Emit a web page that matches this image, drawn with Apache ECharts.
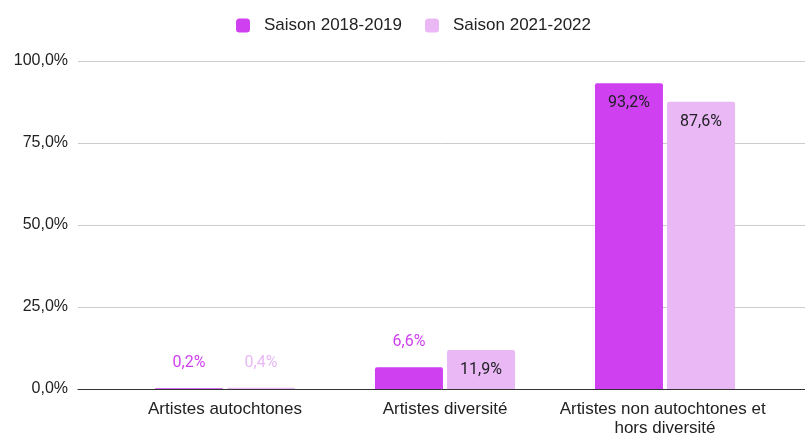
<!DOCTYPE html>
<html><head><meta charset="utf-8">
<script src="https://cdn.jsdelivr.net/npm/echarts@6/dist/echarts.min.js"></script>
<style>html,body{margin:0;padding:0;background:#fff}#c{width:805px;height:435px}</style>
</head><body><div id="c"></div>
<script>
const categories = ['Artistes autochtones', 'Artistes diversité', 'Artistes non autochtones et hors diversité'];
const seriesNames = ['Saison 2018-2019', 'Saison 2021-2022'];
const season2018 = [0.2, 6.6, 93.2];
const season2021 = [0.4, 11.9, 87.6];
const yTicks = [0, 25, 50, 75, 100];
const colors = ['#cf40f0', '#e9b8f5'];

const fmt = v => v.toFixed(1).replace('.', ',') + '%';
function items(values, color) {
  return values.map(v => v >= 10
    ? { value: v, label: { position: 'insideTop', distance: 12, color: '#202124' } }
    : { value: v, label: { position: 'top', distance: 17, color: color } });
}
const chart = echarts.init(document.getElementById('c'), null, { renderer: 'canvas' });
const axFont = 'Liberation Sans';
const valFont = 'Roboto';
chart.setOption({
  animation: false,
  textStyle: { fontFamily: axFont },
  legend: {
    top: 12, left: 231, itemWidth: 14, itemHeight: 14, itemGap: 23,
    icon: 'roundRect',
    textStyle: { fontSize: 17, color: '#222', fontFamily: axFont, padding: [0, 0, 0, 9] },
    data: seriesNames
  },
  grid: [
    { left: 115, right: 30, top: 61, bottom: 46, containLabel: false, outerBoundsMode: 'none' },
    { left: 78, right: 0, top: 61, bottom: 46, containLabel: false, outerBoundsMode: 'none' }
  ],
  xAxis: [
    { gridIndex: 0, type: 'category', data: categories,
      axisLine: { show: false }, axisTick: { show: false },
      axisLabel: { interval: 0, fontSize: 17, color: '#222', fontFamily: axFont, margin: 11, width: 220, overflow: 'break', lineHeight: 19 } },
    { gridIndex: 1, type: 'value', min: 0, max: 1, z: 5,
      axisLine: { show: true, lineStyle: { color: '#333', width: 1 } },
      axisTick: { show: false }, axisLabel: { show: false }, splitLine: { show: false } }
  ],
  yAxis: [
    { gridIndex: 0, type: 'value', min: yTicks[0], max: yTicks[yTicks.length - 1], interval: 25, show: false },
    { gridIndex: 1, type: 'value', min: yTicks[0], max: yTicks[yTicks.length - 1], interval: 25,
      axisLine: { show: false }, axisTick: { show: false },
      axisLabel: { formatter: v => fmt(v), fontSize: 16, color: '#222', fontFamily: axFont, margin: 10 },
      splitLine: { lineStyle: { color: '#cccccc' } } }
  ],
  series: [
    { name: seriesNames[0], type: 'bar', xAxisIndex: 0, yAxisIndex: 0, data: items(season2018, colors[0]),
      itemStyle: { color: colors[0], borderRadius: [2, 2, 0, 0] }, barWidth: 68, barGap: '6%',
      label: { show: true, formatter: p => fmt(p.value), fontSize: 16, fontFamily: valFont } },
    { name: seriesNames[1], type: 'bar', xAxisIndex: 0, yAxisIndex: 0, data: items(season2021, colors[1]),
      itemStyle: { color: colors[1], borderRadius: [2, 2, 0, 0] }, barWidth: 68, barGap: '6%',
      label: { show: true, formatter: p => fmt(p.value), fontSize: 16, fontFamily: valFont } }
  ]
});
</script></body></html>
